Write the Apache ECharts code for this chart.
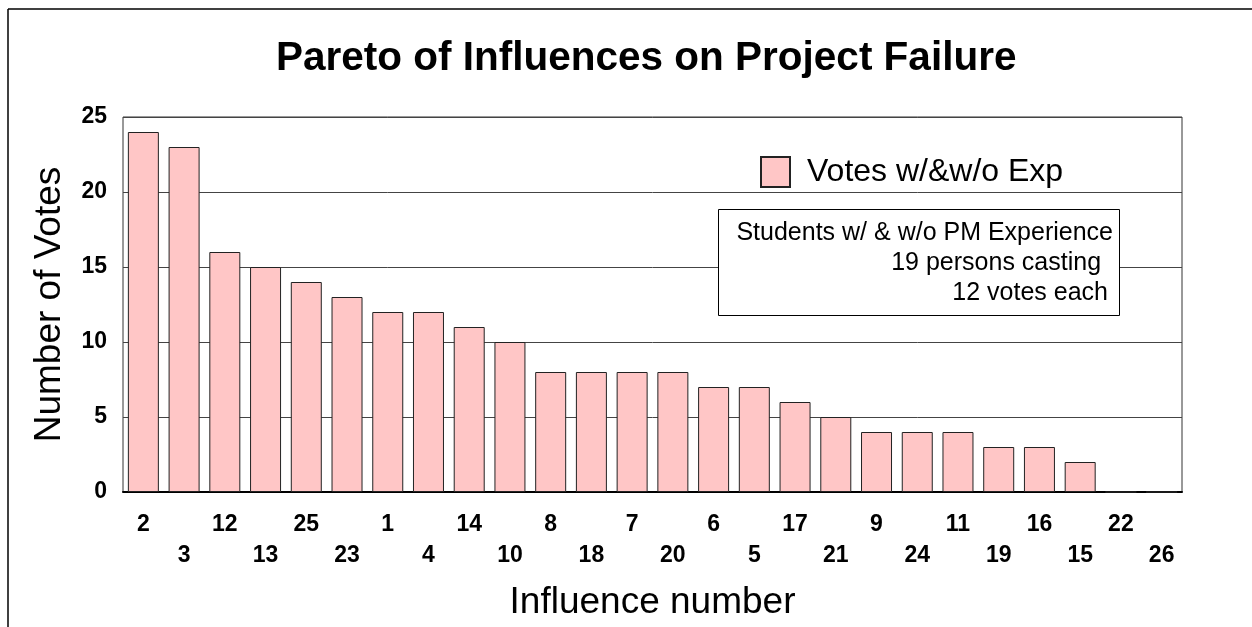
<!DOCTYPE html>
<html>
<head>
<meta charset="utf-8">
<script src="https://cdn.jsdelivr.net/npm/echarts@6/dist/echarts.min.js"></script>
<style>
html,body{margin:0;padding:0;background:#fff;}
#main{width:1252px;height:627px;}
</style>
</head>
<body>
<div id="main"></div>
<script>
var categories = ['2','3','12','13','25','23','1','4','14','10','8','18','7','20','6','5','17','21','9','24','11','19','16','15','22','26'];
var votes = [24,23,16,15,14,13,12,12,11,10,8,8,8,8,7,7,6,5,4,4,4,3,3,2,0,0];
var seriesName = 'Votes w/&w/o Exp';
var yTicks = {min:0, max:25, interval:5};
var noteLines = ['Students w/ & w/o PM Experience', '19 persons casting ', '12 votes each'];

var font = 'Liberation Sans, Arial, sans-serif';
var myChar = echarts.init(document.getElementById('main'));
var myOption = {
    backgroundColor: '#fff',
    animation: false,
    title: {
        text: 'Pareto of Influences on Project Failure',
        left: 271,
        top: 33,
        textStyle: {fontFamily: font, fontSize: 40.5, fontWeight: 'bold', color: '#000'}
    },
    grid: {
        left: 123,
        right: 70,
        top: 117,
        bottom: 135,
        show: true,
        borderColor: '#333',
        borderWidth: 1
    },
    legend: {
        data: [seriesName],
        icon: 'rect',
        left: 755,
        top: 151,
        itemWidth: 29,
        itemHeight: 30,
        textStyle: {fontFamily: font, fontSize: 32, color: '#000', padding: [0, 0, 0, 12]}
    },
    xAxis: {
        type: 'category',
        data: categories,
        name: 'Influence number',
        nameLocation: 'middle',
        nameGap: 92,
        nameTextStyle: {fontFamily: font, fontSize: 37, color: '#000'},
        axisLine: {lineStyle: {color: '#000', width: 2}},
        axisTick: {show: false},
        axisLabel: {
            interval: 0,
            margin: 17,
            fontFamily: font,
            fontSize: 23,
            fontWeight: 'bold',
            color: '#000',
            lineHeight: 31,
            formatter: function(value, index) {
                return index % 2 === 1 ? '\n' + value : value;//交错两行
            }
        }
    },
    yAxis: {
        type: 'value',
        min: yTicks.min,
        max: yTicks.max,
        interval: yTicks.interval,
        name: 'Number of Votes',
        nameLocation: 'middle',
        nameGap: 55,
        nameTextStyle: {fontFamily: font, fontSize: 37, color: '#000'},
        axisLine: {show: false},
        axisTick: {show: false},
        splitLine: {lineStyle: {color: '#444', width: 1}},
        axisLabel: {
            margin: 16,
            fontFamily: font,
            fontSize: 23,
            fontWeight: 'bold',
            color: '#000'
        }
    },
    series: [{
        name: seriesName,
        type: 'bar',
        data: votes,
        barWidth: 31,
        itemStyle: {color: '#ffc6c6', borderColor: '#222', borderWidth: 1}
    }],
    graphic: [
        {type: 'line', shape: {x1: 8, y1: 9, x2: 1252, y2: 9}, style: {stroke: '#000', lineWidth: 1.5}},
        {type: 'line', shape: {x1: 8, y1: 9, x2: 8, y2: 627}, style: {stroke: '#000', lineWidth: 1.5}},
        {type: 'rect', shape: {x: 718.5, y: 209.5, width: 401, height: 106}, style: {fill: '#fff', stroke: '#000', lineWidth: 1}, z: 100},
        {type: 'text', x: 1113, y: 233, z: 101, style: {text: noteLines[0], font: '25px ' + font, fill: '#000', textAlign: 'right', textVerticalAlign: 'middle'}},
        {type: 'text', x: 1108, y: 263, z: 101, style: {text: noteLines[1], font: '25px ' + font, fill: '#000', textAlign: 'right', textVerticalAlign: 'middle'}},
        {type: 'text', x: 1108, y: 293, z: 101, style: {text: noteLines[2], font: '25px ' + font, fill: '#000', textAlign: 'right', textVerticalAlign: 'middle'}}
    ]
};
myChar.setOption(myOption);
</script>
</body>
</html>
